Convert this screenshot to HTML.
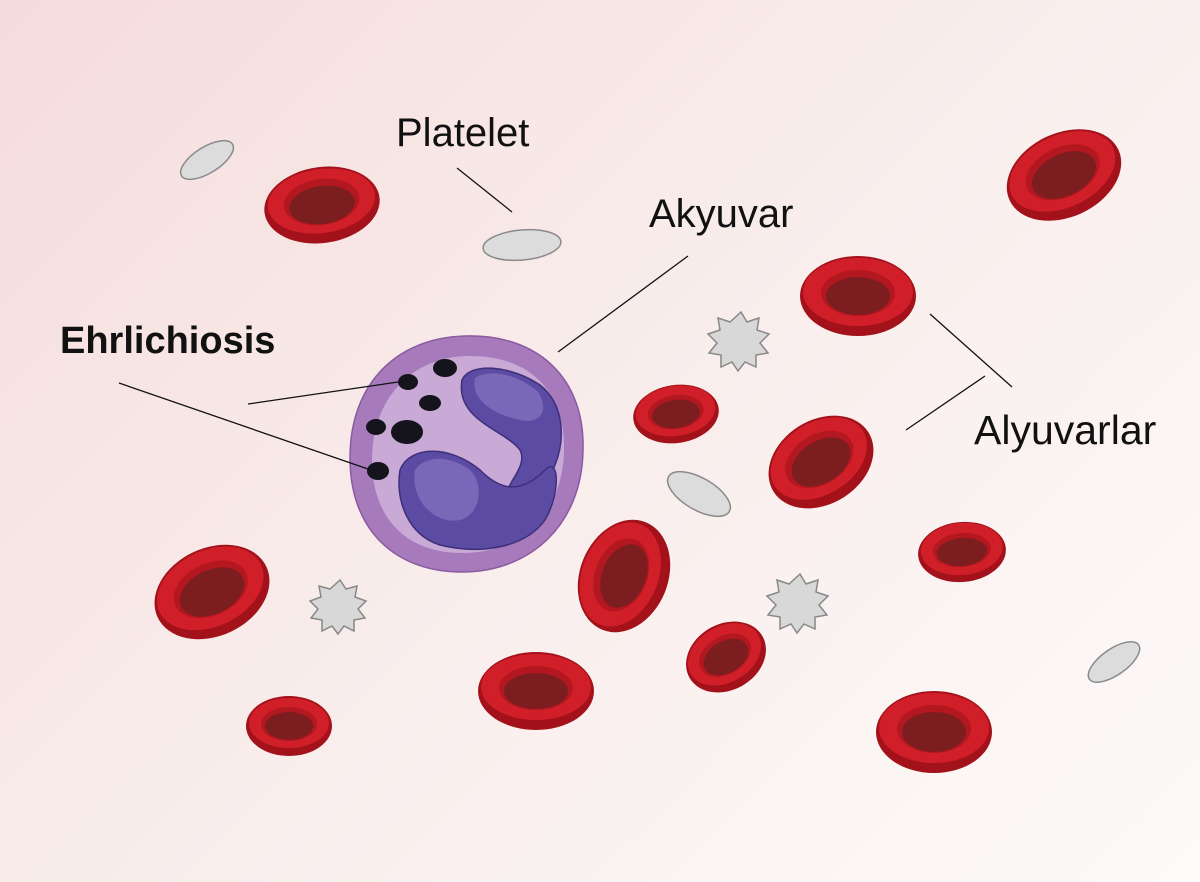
<!DOCTYPE html>
<html><head><meta charset="utf-8"><style>
html,body{margin:0;padding:0}
body{width:1200px;height:882px;overflow:hidden;background:linear-gradient(135deg,#f5dcdc 0%,#f8ecea 45%,#fdfafa 100%);}
svg{position:absolute;left:0;top:0}
text{font-family:"Liberation Sans",sans-serif;font-size:40px;fill:#111}
</style></head><body>
<svg width="1200" height="882" viewBox="0 0 1200 882">
<g stroke="none">
<g transform="translate(322,205) rotate(-8)"><ellipse rx="58" ry="38" fill="#a3121a"/><ellipse cy="-4" rx="54" ry="32" fill="#d11f29"/><ellipse cy="-3" rx="38" ry="23" fill="#b3171f"/><ellipse cy="0" rx="33" ry="19" fill="#7c1d1f"/></g>
<g transform="translate(1064,175) rotate(-25)"><ellipse rx="60" ry="42" fill="#a3121a"/><ellipse cy="-4" rx="56" ry="36" fill="#d11f29"/><ellipse cy="-3" rx="39" ry="25" fill="#b3171f"/><ellipse cy="0" rx="34" ry="21" fill="#7c1d1f"/></g>
<g transform="translate(858,296)"><ellipse rx="58" ry="40" fill="#a3121a"/><ellipse cy="-4" rx="55" ry="34" fill="#d11f29"/><ellipse cy="-3" rx="37" ry="23" fill="#b3171f"/><ellipse cy="0" rx="32" ry="19" fill="#7c1d1f"/></g>
<g transform="translate(676,414) rotate(-8)"><ellipse rx="43" ry="29" fill="#a3121a"/><ellipse cy="-3" rx="40" ry="25" fill="#d11f29"/><ellipse cy="-2" rx="28" ry="17" fill="#b3171f"/><ellipse cy="0" rx="24" ry="14" fill="#7c1d1f"/></g>
<g transform="translate(821,462) rotate(-32)"><ellipse rx="56" ry="42" fill="#a3121a"/><ellipse cy="-4" rx="52" ry="36" fill="#d11f29"/><ellipse cy="-3" rx="37" ry="25" fill="#b3171f"/><ellipse cy="0" rx="32" ry="21" fill="#7c1d1f"/></g>
<g transform="translate(624,576) rotate(-68)"><ellipse rx="58" ry="44" fill="#a3121a"/><ellipse cy="-4" rx="54" ry="38" fill="#d11f29"/><ellipse cy="-3" rx="38" ry="26" fill="#b3171f"/><ellipse cy="0" rx="33" ry="22" fill="#7c1d1f"/></g>
<g transform="translate(962,552) rotate(-5)"><ellipse rx="44" ry="30" fill="#a3121a"/><ellipse cy="-3" rx="41" ry="26" fill="#d11f29"/><ellipse cy="-2" rx="29" ry="17" fill="#b3171f"/><ellipse cy="0" rx="25" ry="14" fill="#7c1d1f"/></g>
<g transform="translate(726,657) rotate(-30)"><ellipse rx="42" ry="33" fill="#a3121a"/><ellipse cy="-3" rx="39" ry="28" fill="#d11f29"/><ellipse cy="-2" rx="28" ry="19" fill="#b3171f"/><ellipse cy="0" rx="24" ry="16" fill="#7c1d1f"/></g>
<g transform="translate(212,592) rotate(-25)"><ellipse rx="60" ry="44" fill="#a3121a"/><ellipse cy="-4" rx="56" ry="38" fill="#d11f29"/><ellipse cy="-3" rx="39" ry="26" fill="#b3171f"/><ellipse cy="0" rx="34" ry="22" fill="#7c1d1f"/></g>
<g transform="translate(536,691)"><ellipse rx="58" ry="39" fill="#a3121a"/><ellipse cy="-4" rx="55" ry="33" fill="#d11f29"/><ellipse cy="-3" rx="37" ry="22" fill="#b3171f"/><ellipse cy="0" rx="32" ry="18" fill="#7c1d1f"/></g>
<g transform="translate(289,726)"><ellipse rx="43" ry="30" fill="#a3121a"/><ellipse cy="-3" rx="40" ry="25" fill="#d11f29"/><ellipse cy="-2" rx="28" ry="17" fill="#b3171f"/><ellipse cy="0" rx="24" ry="14" fill="#7c1d1f"/></g>
<g transform="translate(934,732)"><ellipse rx="58" ry="41" fill="#a3121a"/><ellipse cy="-4" rx="55" ry="35" fill="#d11f29"/><ellipse cy="-3" rx="37" ry="24" fill="#b3171f"/><ellipse cy="0" rx="32" ry="20" fill="#7c1d1f"/></g>
</g>
<g fill="#dcdcdc" stroke="#8a8a8a" stroke-width="1.5">
<ellipse cx="207" cy="160" rx="30" ry="13" transform="rotate(-32 207 160)"/>
<ellipse cx="522" cy="245" rx="39" ry="15" transform="rotate(-5 522 245)"/>
<ellipse cx="699" cy="494" rx="35" ry="16" transform="rotate(30 699 494)"/>
<ellipse cx="1114" cy="662" rx="30" ry="13" transform="rotate(-35 1114 662)"/>
</g>
<g fill="#d8d8d8" stroke="#888" stroke-width="1.5">
<path d="M741,312 l6,10 l12,-4 l-2,12 l12,4 l-9,9 l8,10 l-12,2 l0,12 l-11,-5 l-7,9 l-6,-9 l-11,5 l0,-12 l-12,-2 l8,-10 l-9,-9 l12,-4 l-2,-12 l12,4 z"/>
<path d="M340,580 l6,9 l11,-3 l-2,11 l11,4 l-8,8 l7,9 l-11,2 l0,11 l-10,-5 l-6,8 l-6,-8 l-10,5 l0,-11 l-11,-2 l7,-9 l-8,-8 l11,-4 l-2,-11 l11,3 z"/>
<path d="M800,574 l6,10 l12,-4 l-2,12 l12,4 l-9,9 l8,10 l-12,2 l0,12 l-11,-5 l-7,9 l-6,-9 l-11,5 l0,-12 l-12,-2 l8,-10 l-9,-9 l12,-4 l-2,-12 l12,4 z"/>
</g>
<path d="M465,336 C540,334 585,380 583,450 C582,525 530,572 462,572 C395,572 350,530 350,458 C350,385 395,338 465,336 Z" fill="#a77bbb" stroke="#8a5aa0" stroke-width="1.5"/>
<path d="M468,356 C530,355 566,392 564,452 C562,515 520,553 462,553 C405,553 372,517 372,460 C372,400 410,357 468,356 Z" fill="#c9a9d5"/>
<path d="M462,380 C470,362 510,365 540,385 C565,405 565,440 555,465 C545,490 525,520 510,505 C495,490 530,470 520,450 C505,430 455,420 462,380 Z" fill="#5b4ba3" stroke="#3e2f7a" stroke-width="1.5"/>
<path d="M475,378 C490,368 520,375 538,392 C550,410 540,425 520,420 C495,415 470,400 475,378 Z" fill="#7968b8"/>
<path d="M400,470 C410,445 450,445 480,470 C500,490 520,495 545,470 C560,455 560,495 545,520 C525,548 480,555 440,545 C408,535 395,500 400,470 Z" fill="#5b4ba3" stroke="#3e2f7a" stroke-width="1.5"/>
<path d="M415,470 C425,455 450,455 470,470 C485,485 480,515 460,520 C435,525 410,500 415,470 Z" fill="#7968b8"/>
<g fill="#15131c">
<ellipse cx="408" cy="382" rx="10" ry="8"/>
<ellipse cx="445" cy="368" rx="12" ry="9"/>
<ellipse cx="430" cy="403" rx="11" ry="8"/>
<ellipse cx="376" cy="427" rx="10" ry="8"/>
<ellipse cx="407" cy="432" rx="16" ry="12"/>
<ellipse cx="378" cy="471" rx="11" ry="9"/>
</g>
<g stroke="#111" stroke-width="1.3">
<line x1="457" y1="168" x2="512" y2="212"/>
<line x1="688" y1="256" x2="558" y2="352"/>
<line x1="248" y1="404" x2="398" y2="382"/>
<line x1="119" y1="383" x2="368" y2="469"/>
<line x1="930" y1="314" x2="1012" y2="387"/>
<line x1="906" y1="430" x2="985" y2="376"/>
</g>
<text x="396" y="146">Platelet</text>
<text x="649" y="227">Akyuvar</text>
<text x="60" y="353" style="font-weight:bold;font-size:38px">Ehrlichiosis</text>
<text x="974" y="444" style="font-size:41px">Alyuvarlar</text>
</svg>
</body></html>
